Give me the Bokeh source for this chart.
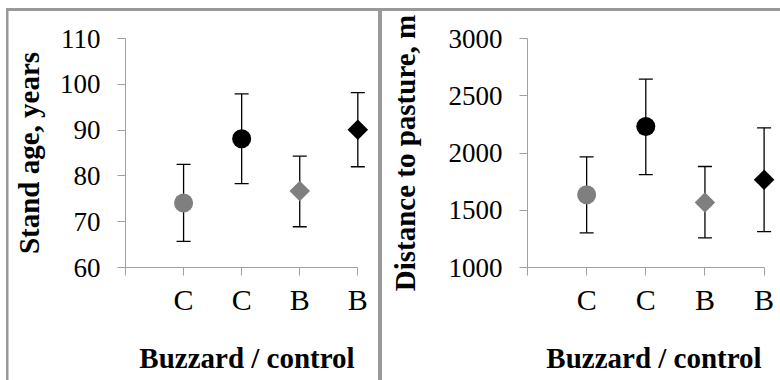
import numpy as np
from bokeh.plotting import figure
from bokeh.layouts import row
from bokeh.models import Range1d, FixedTicker
from bokeh.embed import file_html
from bokeh.resources import INLINE

# ---- data ----
categories = ["C", "C", "B", "B"]

stand_age_mean = [74.1, 88.1, 76.7, 90.1]
stand_age_upper = [82.5, 97.9, 84.3, 98.2]
stand_age_lower = [65.7, 78.3, 68.9, 82.0]
stand_age_ticks = [60, 70, 80, 90, 100, 110]

distance_mean = [1635, 2231, 1568, 1766]
distance_upper = [1967, 2645, 1882, 2220]
distance_lower = [1303, 1812, 1259, 1314]
distance_ticks = [1000, 1500, 2000, 2500, 3000]

# ---- styles ----
POINT_COLORS = ["#7f7f7f", "#000000", "#7f7f7f", "#000000"]
SERIF = "Liberation Serif"
AXIS_GRAY = "#a0a0a0"
BORDER_GRAY = "#999999"


def make_panel(mean, upper, lower, yticks, ytitle, width, left_b, right_b,
               top_b, bottom_b, x_end, title_standoff):
    xs = list(range(1, len(categories) + 1))
    p = figure(width=width, height=380, output_backend="svg", toolbar_location=None,
               x_range=Range1d(0, x_end), y_range=Range1d(yticks[0], yticks[-1]),
               min_border_left=left_b, min_border_right=right_b,
               min_border_top=top_b, min_border_bottom=bottom_b,
               background_fill_color="white", border_fill_alpha=0)
    p.outline_line_color = None
    p.grid.visible = False

    # error bars
    p.segment(x0=xs, y0=lower, x1=xs, y1=upper, line_color="black", line_width=1.3)
    p.scatter(x=xs + xs, y=list(upper) + list(lower), marker="dash", size=14,
              line_color="black", line_width=1.3)

    # markers: circle for control (C), diamond for buzzard (B)
    for i, cat in enumerate(categories):
        if cat == "C":
            p.scatter(x=[xs[i]], y=[mean[i]], marker="circle", size=19,
                      fill_color=POINT_COLORS[i], line_color=None)
        else:
            p.scatter(x=[xs[i]], y=[mean[i]], marker="square", size=14.5,
                      angle=np.pi / 4, fill_color=POINT_COLORS[i], line_color=None)

    # x axis
    xa = p.xaxis[0]
    xa.ticker = FixedTicker(ticks=[0] + xs)
    overrides = {0: ""}
    for x, c in zip(xs, categories):
        overrides[x] = c
    xa.major_label_overrides = overrides
    xa.bounds = (0, len(categories))
    xa.minor_tick_line_color = None
    xa.axis_line_color = AXIS_GRAY
    xa.major_tick_line_color = AXIS_GRAY
    xa.major_tick_out = 8
    xa.major_tick_in = 0
    xa.major_label_text_font = SERIF
    xa.major_label_text_font_size = "30px"
    xa.major_label_text_color = "black"
    xa.major_label_standoff = 7
    xa.axis_label = "Buzzard / control"
    xa.axis_label_text_font = SERIF
    xa.axis_label_text_font_style = "bold"
    xa.axis_label_text_font_size = "29px"
    xa.axis_label_text_color = "black"
    xa.axis_label_standoff = 23

    # y axis
    ya = p.yaxis[0]
    ya.ticker = FixedTicker(ticks=yticks)
    ya.minor_tick_line_color = None
    ya.axis_line_color = AXIS_GRAY
    ya.major_tick_line_color = AXIS_GRAY
    ya.major_tick_out = 8
    ya.major_tick_in = 0
    ya.major_label_text_font = SERIF
    ya.major_label_text_font_size = "27px"
    ya.major_label_text_color = "black"
    ya.major_label_standoff = 17
    ya.axis_label = ytitle
    ya.axis_label_text_font = SERIF
    ya.axis_label_text_font_style = "bold"
    ya.axis_label_text_font_size = "29px"
    ya.axis_label_text_color = "black"
    ya.axis_label_standoff = title_standoff
    return p


p1 = make_panel(stand_age_mean, stand_age_upper, stand_age_lower, stand_age_ticks,
                "Stand age, years", 380, 125, 12, 28, 113, 243 / 58.08, 12)
p2 = make_panel(distance_mean, distance_upper, distance_lower, distance_ticks,
                "Distance to pasture, m", 400, 147, 0, 38, 113, 253 / 59.15, 25)

line = f"linear-gradient({BORDER_GRAY},{BORDER_GRAY})"
panel_borders = ", ".join([
    f"{line} 6px 8px / 2.5px 372px no-repeat",     # left edge of first panel
    f"{line} 6px 8px / 774px 3px no-repeat",       # top edge of both panels
    f"{line} 378px 8px / 4px 372px no-repeat",     # divider between panels
    "white",
])

layout = row(p1, p2, styles={"background": panel_borders})
open("out.html", "w").write(file_html(layout, INLINE))
